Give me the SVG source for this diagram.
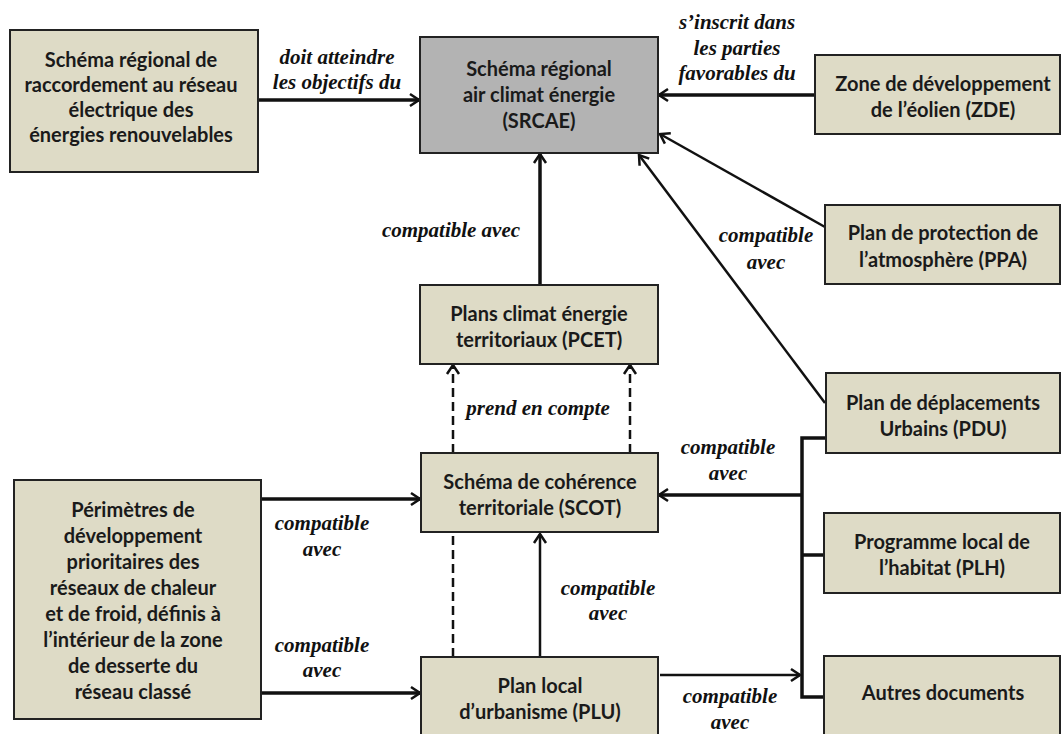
<svg xmlns="http://www.w3.org/2000/svg" width="1062" height="734" viewBox="0 0 1062 734">
<style>
.box{fill:#dedbc6;stroke:#222;stroke-width:2}
.main{fill:#b3b3b3;stroke:#222;stroke-width:2}
.t{font-family:Lato,"Liberation Sans",sans-serif;font-weight:bold;font-size:20px;fill:#1a1a1a;text-anchor:middle}
.l{font-family:"Liberation Serif",serif;font-weight:bold;font-style:italic;font-size:21px;fill:#111;text-anchor:middle}
.c{fill:none;stroke:#111}
.w3{stroke-width:3.5}
.w2{stroke-width:2.5}
.d{stroke-dasharray:9 5}
</style>
<defs>
<marker id="ah" viewBox="-12 -8 14 16" refX="0" refY="0" markerWidth="14" markerHeight="16" orient="auto" markerUnits="userSpaceOnUse">
<path d="M-9,-6 L0,0 L-9,6" fill="none" stroke="#111" stroke-width="2.5"/>
</marker>
</defs>
<rect width="1062" height="734" fill="#fff"/>
<g id="connectors">
<line class="c w3" x1="258" y1="100" x2="419" y2="100" marker-end="url(#ah)"/>
<line class="c w3" x1="815" y1="95" x2="659" y2="95" marker-end="url(#ah)"/>
<line class="c w2" x1="825" y1="227" x2="660" y2="134" marker-end="url(#ah)"/>
<line class="c w2" x1="825" y1="403" x2="639" y2="155" marker-end="url(#ah)"/>
<line class="c w3" x1="540" y1="285" x2="540" y2="154" marker-end="url(#ah)"/>
<line class="c w2 d" x1="453" y1="453" x2="453" y2="365" marker-end="url(#ah)"/>
<line class="c w2 d" x1="630" y1="453" x2="630" y2="365" marker-end="url(#ah)"/>
<line class="c w2 d" x1="453" y1="657" x2="453" y2="533"/>
<line class="c w3" x1="261" y1="499" x2="420" y2="499" marker-end="url(#ah)"/>
<line class="c w3" x1="261" y1="693" x2="420" y2="693" marker-end="url(#ah)"/>
<line class="c w2" x1="540" y1="657" x2="540" y2="534" marker-end="url(#ah)"/>
<polyline class="c w3" points="826,438 802,438 802,697 824,697"/>
<line class="c w3" x1="802" y1="555" x2="824" y2="555"/>
<line class="c w3" x1="802" y1="495" x2="659" y2="495" marker-end="url(#ah)"/>
<line class="c w2" x1="660" y1="675" x2="800" y2="675" marker-end="url(#ah)"/>
<text class="l" x="337" y="64">doit atteindre</text>
<text class="l" x="337" y="89">les objectifs du</text>
<text class="l" x="737" y="29">s’inscrit dans</text>
<text class="l" x="737" y="55">les parties</text>
<text class="l" x="737" y="80">favorables du</text>
<text class="l" x="451" y="237">compatible avec</text>
<text class="l" x="766" y="242">compatible</text>
<text class="l" x="766" y="269">avec</text>
<text class="l" x="538" y="415">prend en compte</text>
<text class="l" x="728" y="454">compatible</text>
<text class="l" x="728" y="480">avec</text>
<text class="l" x="322" y="530">compatible</text>
<text class="l" x="322" y="556">avec</text>
<text class="l" x="322" y="652">compatible</text>
<text class="l" x="322" y="677">avec</text>
<text class="l" x="608" y="595">compatible</text>
<text class="l" x="608" y="620">avec</text>
<text class="l" x="730" y="703">compatible</text>
<text class="l" x="730" y="729">avec</text>
</g>
<g id="sraccord">
<rect class="box" x="10" y="30" width="248" height="142"/>
<text class="t" x="131" y="67">Schéma régional de</text>
<text class="t" x="131" y="92">raccordement au réseau</text>
<text class="t" x="131" y="117">électrique des</text>
<text class="t" x="131" y="142">énergies renouvelables</text>
</g>
<g id="srcae">
<rect class="main" x="420" y="37" width="238" height="116"/>
<text class="t" x="539" y="76">Schéma régional</text>
<text class="t" x="539" y="102">air climat énergie</text>
<text class="t" x="539" y="128">(SRCAE)</text>
</g>
<g id="zde">
<rect class="box" x="815" y="55" width="245" height="79"/>
<text class="t" x="943" y="91">Zone de développement</text>
<text class="t" x="943" y="117">de l’éolien (ZDE)</text>
</g>
<g id="ppa">
<rect class="box" x="825" y="205" width="235" height="79"/>
<text class="t" x="943" y="240">Plan de protection de</text>
<text class="t" x="943" y="267">l’atmosphère (PPA)</text>
</g>
<g id="pcet">
<rect class="box" x="420" y="285" width="238" height="79"/>
<text class="t" x="539" y="321">Plans climat énergie</text>
<text class="t" x="539" y="347">territoriaux (PCET)</text>
</g>
<g id="pdu">
<rect class="box" x="826" y="373" width="234" height="80"/>
<text class="t" x="943" y="410">Plan de déplacements</text>
<text class="t" x="943" y="436">Urbains (PDU)</text>
</g>
<g id="scot">
<rect class="box" x="421" y="453" width="237" height="79"/>
<text class="t" x="540" y="489">Schéma de cohérence</text>
<text class="t" x="540" y="515">territoriale (SCOT)</text>
</g>
<g id="perimetres">
<rect class="box" x="14" y="480" width="247" height="239"/>
<text class="t" x="133" y="517">Périmètres de</text>
<text class="t" x="133" y="543">développement</text>
<text class="t" x="133" y="569">prioritaires des</text>
<text class="t" x="133" y="595">réseaux de chaleur</text>
<text class="t" x="133" y="621">et de froid, définis à</text>
<text class="t" x="133" y="647">l’intérieur de la zone</text>
<text class="t" x="133" y="673">de desserte du</text>
<text class="t" x="133" y="699">réseau classé</text>
</g>
<g id="plh">
<rect class="box" x="824" y="513" width="236" height="80"/>
<text class="t" x="942" y="549">Programme local de</text>
<text class="t" x="942" y="575">l’habitat (PLH)</text>
</g>
<g id="plu">
<rect class="box" x="421" y="657" width="237" height="90"/>
<text class="t" x="540" y="693">Plan local</text>
<text class="t" x="540" y="719">d’urbanisme (PLU)</text>
</g>
<g id="autres">
<rect class="box" x="824" y="656" width="236" height="90"/>
<text class="t" x="943" y="700">Autres documents</text>
</g>
</svg>
